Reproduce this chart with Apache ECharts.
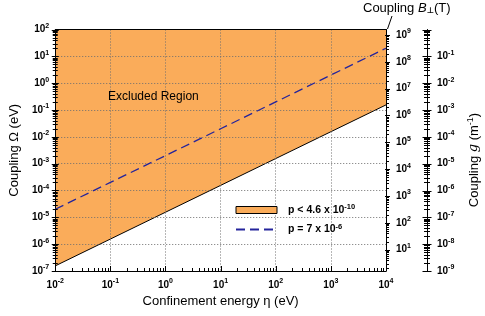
<!DOCTYPE html>
<html><head><meta charset="utf-8">
<script src="https://cdn.jsdelivr.net/npm/echarts@6/dist/echarts.min.js"></script>
<style>html,body{margin:0;padding:0;background:#fff}#c{width:485px;height:316px}</style>
</head><body><div id="c"></div>
<script>
// ---- data ----
const energy = [1e-2, 1e-1, 1e0, 1e1, 1e2, 1e3, 1e4];                 // η (eV)
const boundaryOmega = [1.55e-7, 1.55e-6, 1.55e-5, 1.55e-4, 1.55e-3, 1.55e-2, 1.55e-1]; // excluded boundary Ω (eV)
const dashedOmega = [2e-5, 2e-4, 2e-3, 2e-2, 2e-1, 2, 20];            // p = 7e-6 line Ω (eV)
const excludedName = 'p < 4.6 x 10^-10';
const dashedName = 'p = 7 x 10^-6';
const xRange = [1e-2, 1e4];
const omegaRange = [1e-7, 1e2];
const bRange = [1.6, 1.6e9];
const gRange = [1e-9, 1];

const FONT = 'Liberation Sans, Arial, sans-serif';
const ORANGE = '#FAAC5A';
const NAVY = '#24249C';

function powLabel(v) {
  const e = Math.log10(v); const r = Math.round(e);
  if (Math.abs(e - r) > 1e-6) return '';
  return '{b|10}{s|' + r + '}';
}
const labRich = {
  b: {fontFamily: FONT, fontWeight: 'bold', fontSize: 10, color: '#000', lineHeight: 14},
  s: {fontFamily: FONT, fontWeight: 'bold', fontSize: 7, color: '#000', lineHeight: 14, verticalAlign: 'top'}
};
function tickValues(lo, hi) {
  const out = [];
  for (let e = Math.floor(Math.log10(lo)) ; e <= Math.ceil(Math.log10(hi)); e++) {
    for (let m = 1; m <= 9; m++) {
      const v = m * Math.pow(10, e);
      if (v >= lo * (1 - 1e-9) && v <= hi * (1 + 1e-9)) out.push([v, m === 1 ? 1 : 0]);
    }
  }
  return out;
}
function yTicks(yIdx, lo, hi, xVal, dx, majL, majR, minL, minR) {
  return {
    type: 'custom', xAxisIndex: 0, yAxisIndex: yIdx, clip: false, silent: true, z: 6,
    data: tickValues(lo, hi).map(t => [xVal, t[0], t[1]]),
    renderItem: (params, api) => {
      const p = api.coord([api.value(0), api.value(1)]);
      const maj = api.value(2) === 1;
      const x = p[0] + dx, y = Math.round(p[1]) + 0.5;
      return {type: 'line', shape: {x1: x - (maj ? majL : minL), y1: y, x2: x + (maj ? majR : minR), y2: y},
        style: {stroke: '#000', lineWidth: 1}};
    }
  };
}
function xTicks() {
  return {
    type: 'custom', xAxisIndex: 0, yAxisIndex: 0, clip: false, silent: true, z: 6,
    data: tickValues(xRange[0], xRange[1]).map(t => [t[0], omegaRange[0], t[1]]),
    renderItem: (params, api) => {
      const p = api.coord([api.value(0), api.value(1)]);
      const maj = api.value(2) === 1;
      const x = Math.round(p[0]) + 0.5;
      return {type: 'line', shape: {x1: x, y1: p[1], x2: x, y2: p[1] - (maj ? 5 : 3)},
        style: {stroke: '#000', lineWidth: 1}};
    }
  };
}
const legendRich = {
  t: {fontFamily: FONT, fontWeight: 'bold', fontSize: 10.5, color: '#000', lineHeight: 14, padding: [0, 0, 0, 6]},
  s: {fontFamily: FONT, fontWeight: 'bold', fontSize: 7.5, color: '#000', lineHeight: 14, verticalAlign: 'top'}
};
function legendFmt(name) {
  const i = name.indexOf('^');
  return '{t|' + name.slice(0, i) + '}{s|' + name.slice(i + 1) + '}';
}
const splitStyle = {show: true, lineStyle: {color: '#6f6f6f', type: [1, 2], width: 1}};

const chart = echarts.init(document.getElementById('c'), null, {renderer: 'canvas'});
chart.setOption({
  animation: false,
  backgroundColor: '#fff',
  grid: {left: 51, right: 99, top: 29.5, bottom: 45, containLabel: false},
  legend: {
    left: 235, top: 203, padding: 0, orient: 'vertical', itemWidth: 41, itemHeight: 7, itemGap: 7,
    data: [
      {name: excludedName, icon: 'rect', itemStyle: {color: ORANGE, borderColor: '#000', borderWidth: 1}},
      {name: dashedName, itemStyle: {color: 'rgba(0,0,0,0)', borderColor: 'rgba(0,0,0,0)', borderWidth: 0}}
    ],
    formatter: legendFmt,
    textStyle: {rich: legendRich}
  },
  xAxis: [
    {type: 'log', logBase: 10, min: xRange[0], max: xRange[1], position: 'bottom', z: 3,
     axisLine: {show: true, lineStyle: {color: '#000', width: 1}}, axisTick: {show: false},
     axisLabel: {formatter: powLabel, rich: labRich, margin: 7},
     splitLine: splitStyle,
     name: 'Confinement energy η (eV)', nameLocation: 'middle', nameGap: 22,
     nameTextStyle: {fontFamily: FONT, fontSize: 13, color: '#000'}},
    {type: 'log', logBase: 10, min: xRange[0], max: xRange[1], position: 'top', z: 5,
     axisLine: {show: true, lineStyle: {color: '#000', width: 1}}, axisTick: {show: false},
     axisLabel: {show: false}, splitLine: {show: false}}
  ],
  yAxis: [
    {type: 'log', logBase: 10, min: omegaRange[0], max: omegaRange[1], position: 'left', z: 3,
     axisLine: {show: true, lineStyle: {color: '#000', width: 1}}, axisTick: {show: false},
     axisLabel: {formatter: powLabel, rich: labRich, margin: 6},
     splitLine: splitStyle,
     name: 'Coupling Ω (eV)', nameLocation: 'middle', nameGap: 32,
     nameTextStyle: {fontFamily: FONT, fontSize: 13, color: '#000'}},
    {type: 'log', logBase: 10, min: bRange[0], max: bRange[1], position: 'right', offset: 0, z: 5,
     axisLine: {show: true, lineStyle: {color: '#000', width: 1}}, axisTick: {show: false},
     axisLabel: {formatter: powLabel, rich: labRich, margin: 10}, splitLine: {show: false}},
    {type: 'log', logBase: 10, min: gRange[0], max: gRange[1], position: 'right', offset: 41, z: 5,
     axisLine: {show: true, lineStyle: {color: '#000', width: 1}}, axisTick: {show: false},
     axisLabel: {formatter: v => (Math.abs(Math.log10(v)) < 1e-6 ? '' : powLabel(v)), rich: labRich, margin: 10},
     splitLine: {show: false}}
  ],
  graphic: [
    {type: 'text', left: 108, top: 91, z: 10,
     style: {text: 'Excluded Region', fontFamily: FONT, fontSize: 12, fill: '#000'}},
    {type: 'text', x: 363, y: 8, z: 10,
     style: {text: '{n|Coupling }{i|B}{u|⊥}{n|(T)}', verticalAlign: 'middle',
       rich: {n: {fontFamily: FONT, fontSize: 13, fill: '#000'},
              i: {fontFamily: FONT, fontSize: 13, fontStyle: 'italic', fill: '#000'},
              u: {fontFamily: 'DejaVu Sans', fontSize: 8, fontWeight: 'bold', fill: '#000', verticalAlign: 'bottom', padding: [4, 0, 0, 0]}}}},
    {type: 'line', z: 10, shape: {x1: 392, y1: 16, x2: 387.5, y2: 29}, style: {stroke: '#000', lineWidth: 1}},
    {type: 'text', x: 474, y: 160, rotation: Math.PI / 2, z: 10,
     style: {text: '{n|Coupling }{i|g}{n| (m}{s|-1}{n|)}', align: 'center', verticalAlign: 'middle',
       rich: {n: {fontFamily: FONT, fontSize: 13, fill: '#000', lineHeight: 16},
              i: {fontFamily: 'DejaVu Serif', fontSize: 13, fontStyle: 'italic', fill: '#000', lineHeight: 16},
              s: {fontFamily: FONT, fontSize: 9, fill: '#000', lineHeight: 16, verticalAlign: 'top'}}}}
  ],
  series: [
    {name: excludedName, type: 'line', xAxisIndex: 0, yAxisIndex: 0, z: 2,
     data: energy.map((x, i) => [x, boundaryOmega[i]]),
     symbol: 'none', lineStyle: {color: '#000', width: 1},
     itemStyle: {color: ORANGE},
     areaStyle: {color: ORANGE, opacity: 1, origin: 'end'}},
    {name: dashedName, type: 'line', xAxisIndex: 0, yAxisIndex: 0, z: 4,
     data: energy.map((x, i) => [x, dashedOmega[i]]),
     symbol: 'none', itemStyle: {color: NAVY},
     lineStyle: {color: NAVY, width: 1.3, type: [9, 5]}},
    xTicks(),
    yTicks(0, omegaRange[0], omegaRange[1], xRange[0], 0, 3.5, 3.5, 2.5, 2.5),
    yTicks(1, bRange[0], bRange[1], xRange[1], 0, 1, 4, 0, 3),
    yTicks(2, gRange[0], gRange[1], xRange[1], 41, 4.5, 4.5, 3, 3)
  ]
});
</script></body></html>
